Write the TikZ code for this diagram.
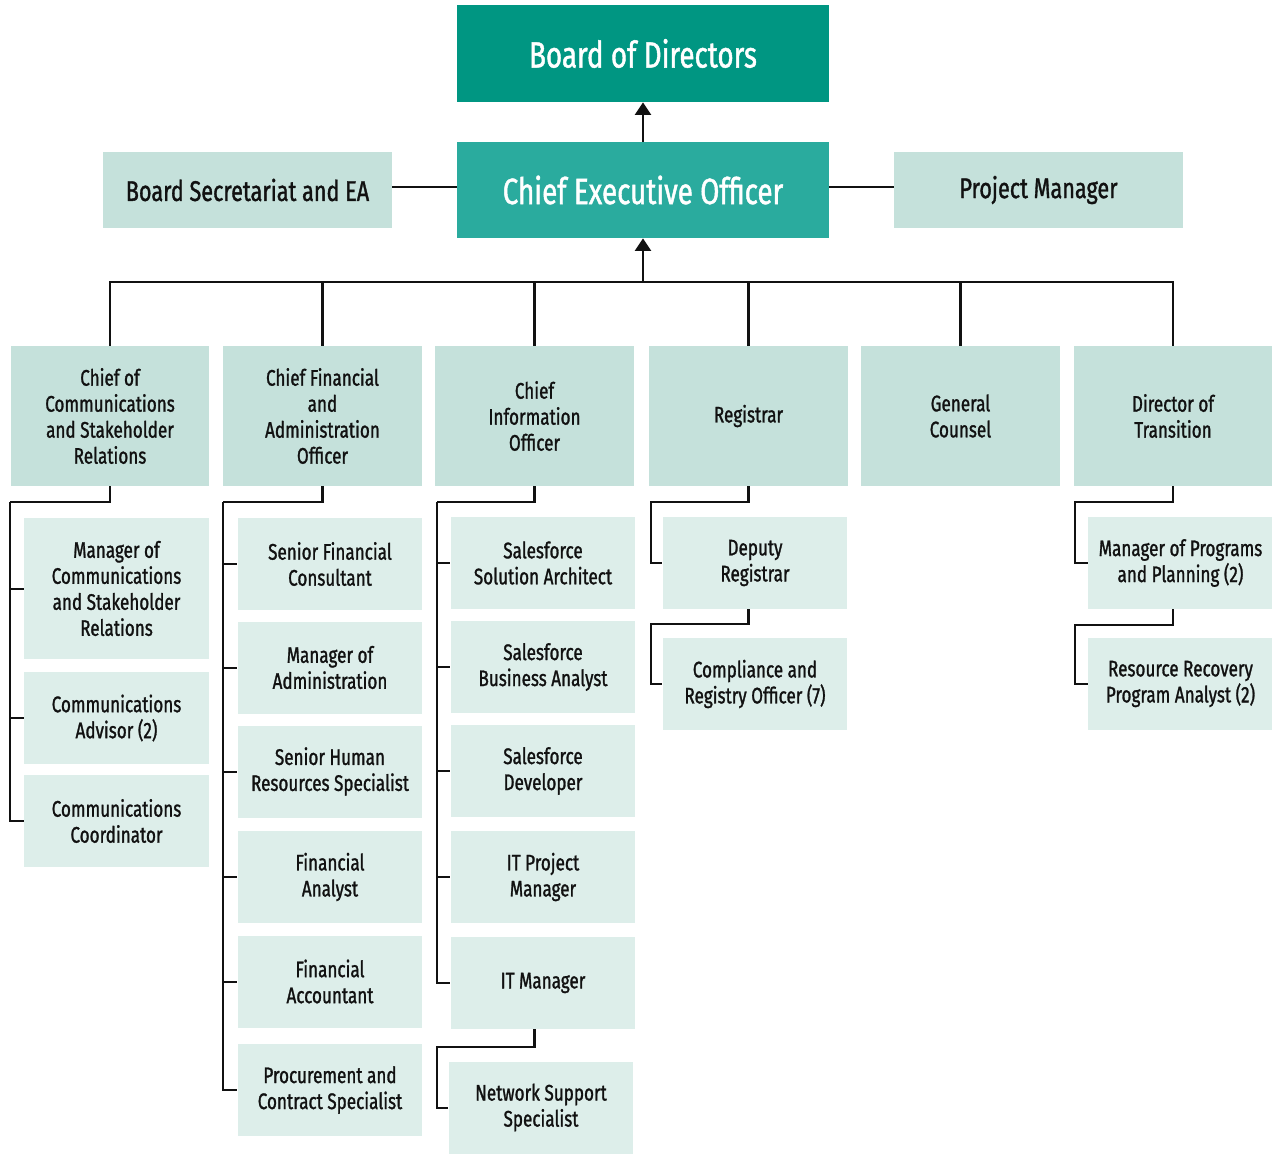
\documentclass[tikz,border=0pt]{standalone}
\usepackage{fontspec}
\setmainfont{Fira Sans}[FakeStretch=0.76,FakeBold=1.2]
\usepackage{xcolor}
\usetikzlibrary{arrows.meta}
\definecolor{boardteal}{HTML}{009682}
\definecolor{ceoteal}{HTML}{2AAB9E}
\definecolor{headsoft}{HTML}{C5E1DB}
\definecolor{staffsoft}{HTML}{DDEEEA}
\definecolor{inkline}{HTML}{111111}
\newcommand\orgbig{\fontsize{20.8}{22}\selectfont}
\newcommand\orgmid{\fontsize{16.2}{18}\selectfont}
\newcommand\orgsmall{\fontsize{12.8}{14.8}\selectfont}
\tikzset{
  orgtop/.style={fill=boardteal,text=white,minimum width=7.44cm,minimum height=1.94cm,font=\orgbig,inner sep=0pt},
  orgceo/.style={fill=ceoteal,text=white,minimum width=7.44cm,minimum height=1.92cm,font=\orgbig,inner sep=0pt},
  orgside/.style={fill=headsoft,text=inkline,minimum width=5.78cm,minimum height=1.52cm,font=\orgmid,inner sep=0pt},
  orghead/.style={fill=headsoft,text=inkline,minimum width=3.98cm,minimum height=2.8cm,font=\orgsmall,align=center,inner sep=0pt},
  orgstaff/.style={fill=staffsoft,text=inkline,minimum width=3.69cm,minimum height=1.84cm,font=\orgsmall,align=center,inner sep=0pt},
  orgline/.style={line width=1.15pt,draw=inkline},
  orgarr/.style={-{Triangle[width=0.32cm,length=0.25cm]},line width=1.15pt,draw=inkline}
}
\begin{document}
\begin{tikzpicture}[x=0.02cm,y=-0.02cm]
  \useasboundingbox (0,0) rectangle (1272,1154);
  % top of the chart
  \node[orgtop] (board) at (643,53.5) {Board of Directors};
  \node[orgceo] (ceo) at (643,190) {Chief Executive Officer};
  \node[orgside] (sec) at (247.5,190) {Board Secretariat and EA};
  \node[orgside] (pm) at (1038.5,190) {Project Manager};
  \draw[orgarr] (ceo) -- (board);
  \draw[orgline] (sec.east |- 0,187) -- (ceo.west |- 0,187);
  \draw[orgline] (ceo.east |- 0,187) -- (pm.west |- 0,187);
  % direct reports
  \coordinate (bus) at (643,282);
  \foreach \x/\nm/\txt in {
     110/c1/{Chief of\\ Communications\\ and Stakeholder\\ Relations},
     322.5/c2/{Chief Financial\\ and\\ Administration\\ Officer},
     534.5/c3/{Chief\\ Information\\ Officer},
     748.5/c4/{Registrar},
     960.5/c5/{General\\ Counsel},
     1173/c6/{Director of\\ Transition}}{
    \node[orghead] (\nm) at (\x,416) {\txt};
    \draw[orgline] (\nm.north) |- (bus);
  }
  \draw[orgarr] (bus) -- (ceo.south);
  % communications
  \node[orgstaff,minimum height=2.82cm] (m1) at (116.5,588.5) {Manager of\\ Communications\\ and Stakeholder\\ Relations};
  \node[orgstaff] (m2) at (116.5,718) {Communications\\ Advisor (2)};
  \node[orgstaff] (m3) at (116.5,821) {Communications\\ Coordinator};
  \coordinate (k1) at (10,502);
  \draw[orgline] (c1.south) |- (k1);
  \foreach \nm in {m1,m2,m3}
    \draw[orgline] (k1) |- (\nm.west);
  % finance and administration
  \coordinate (k2) at (223,502);
  \draw[orgline] (c2.south) |- (k2);
  \foreach \nm/\y/\txt in {
     f1/564/{Senior Financial\\ Consultant},
     f2/667.5/{Manager of\\ Administration},
     f3/771.5/{Senior Human\\ Resources Specialist},
     f4/877/{Financial\\ Analyst},
     f5/981.5/{Financial\\ Accountant},
     f6/1090/{Procurement and\\ Contract Specialist}}{
    \node[orgstaff] (\nm) at (330,\y) {\txt};
    \draw[orgline] (k2) |- (\nm.west);
  }
  % information
  \coordinate (k3) at (437,502);
  \draw[orgline] (c3.south) |- (k3);
  \foreach \nm/\y/\txt in {
     i1/563/{Salesforce\\ Solution Architect},
     i2/667/{Salesforce\\ Business Analyst},
     i3/771/{Salesforce\\ Developer},
     i4/877/{IT Project\\ Manager},
     i5/983/{IT Manager}}{
    \node[orgstaff] (\nm) at (543,\y) {\txt};
    \draw[orgline] (k3) |- (\nm.west);
  }
  \node[orgstaff] (net) at (541,1107.5) {Network Support\\ Specialist};
  \coordinate (k3b) at (437,1047);
  \draw[orgline] (c3.south |- i5.south) |- (k3b) |- (net.west);
  % registrar
  \node[orgstaff] (dep) at (755,563) {Deputy\\ Registrar};
  \node[orgstaff] (comp) at (755,684) {Compliance and\\ Registry Officer (7)};
  \coordinate (k4) at (651,502);
  \coordinate (k4b) at (651,624);
  \draw[orgline] (c4.south) |- (k4) |- (dep.west);
  \draw[orgline] (c4.south |- dep.south) |- (k4b) |- (comp.west);
  % transition
  \node[orgstaff] (prog) at (1180.5,563) {Manager of Programs\\ and Planning (2)};
  \node[orgstaff] (rec) at (1180.5,684) {Resource Recovery\\ Program Analyst (2)};
  \coordinate (k6) at (1075,502);
  \coordinate (k6b) at (1075,625);
  \draw[orgline] (c6.south) |- (k6) |- (prog.west);
  \draw[orgline] (c6.south |- prog.south) |- (k6b) |- (rec.west);
\end{tikzpicture}
\end{document}
